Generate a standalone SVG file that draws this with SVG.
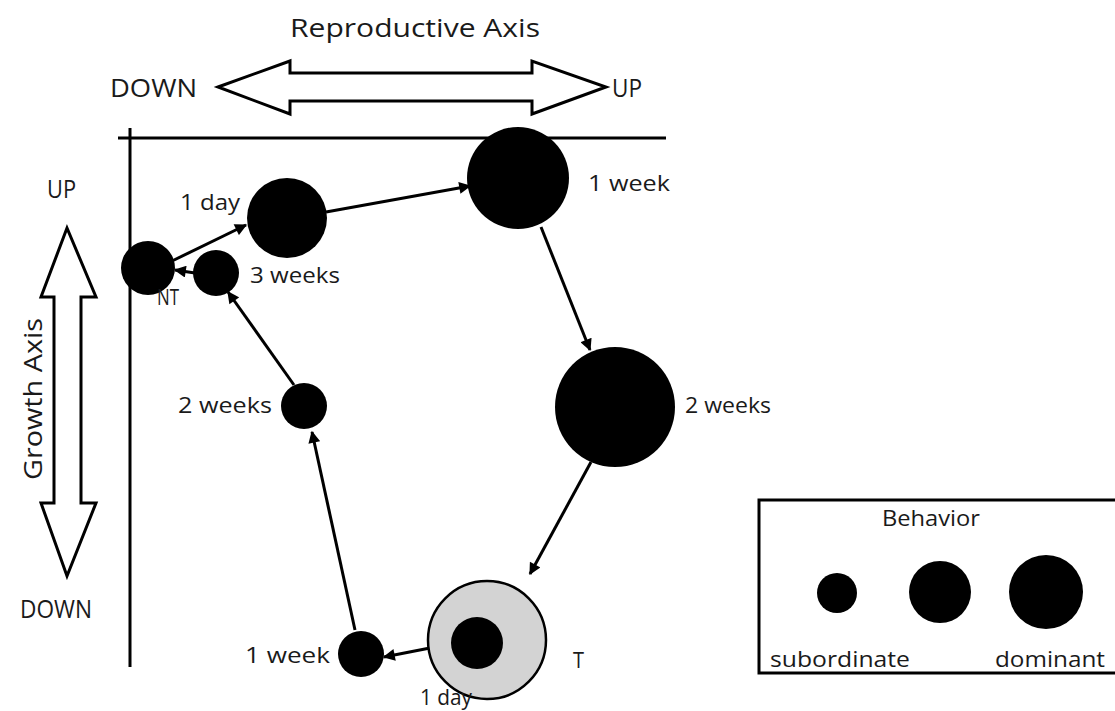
<svg xmlns="http://www.w3.org/2000/svg" width="1115" height="711" viewBox="0 0 1115 711">
<defs>
<style>
text{font-family:"Open Sans","Noto Sans",sans-serif;fill:#1a1a1a}
.big{font-size:25px}
.lbl{font-size:21px}
.node{fill:#000}
.conn line{stroke:#000;stroke-width:3;marker-end:url(#ah)}
.axis{fill:#fff;stroke:#000;stroke-width:3;stroke-linejoin:miter}
</style>
<marker id="ah" viewBox="0 0 10 10" refX="9" refY="5" markerWidth="4.5" markerHeight="4" orient="auto" markerUnits="strokeWidth">
<path d="M0,0 L10,5 L0,10 Z" fill="#000"/>
</marker>
</defs>
<rect width="1115" height="711" fill="#fff"/>

<g id="reproductive-axis">
<text class="big" x="290" y="37" textLength="250" lengthAdjust="spacingAndGlyphs">Reproductive Axis</text>
<text class="big" x="110" y="97" textLength="87" lengthAdjust="spacingAndGlyphs">DOWN</text>
<text class="big" x="612" y="97" textLength="30" lengthAdjust="spacingAndGlyphs">UP</text>
<path class="axis" d="M218,87 L290,61 L290,73 L532,73 L532,61 L606,87 L532,114 L532,101 L290,101 L290,114 Z"/>
</g>

<g id="growth-axis">
<text class="big" x="47" y="198" textLength="29" lengthAdjust="spacingAndGlyphs">UP</text>
<text class="big" x="20" y="618" textLength="72" lengthAdjust="spacingAndGlyphs">DOWN</text>
<text class="big" transform="translate(42,399) rotate(-90)" x="-81" y="0" textLength="162" lengthAdjust="spacingAndGlyphs">Growth Axis</text>
<path class="axis" d="M67,228 L41,297 L54,297 L54,503 L41,503 L67,576 L96,503 L81,503 L81,297 L96,297 Z"/>
</g>

<g id="frame">
<line x1="118" y1="138" x2="666" y2="138" stroke="#000" stroke-width="3"/>
<line x1="130" y1="128" x2="130" y2="667" stroke="#000" stroke-width="3"/>
</g>

<g class="conn" id="connectors">
<line x1="170" y1="262" x2="246" y2="225"/>
<line x1="326" y1="212" x2="470" y2="186"/>
<line x1="541" y1="227" x2="590" y2="350"/>
<line x1="591" y1="462" x2="530" y2="574"/>
<line x1="430" y1="648" x2="384" y2="657"/>
<line x1="355" y1="630" x2="312" y2="432"/>
<line x1="294" y1="385" x2="228" y2="292"/>
<line x1="195" y1="273" x2="175" y2="270"/>
<line x1="492" y1="628" x2="517" y2="611"/>
</g>

<g id="node-NT">
<circle class="node" cx="148" cy="268" r="27"/>
<text class="lbl" x="157" y="305" textLength="22" lengthAdjust="spacingAndGlyphs">NT</text>
</g>
<g id="node-3weeks">
<circle class="node" cx="216" cy="273" r="23"/>
<text class="lbl" x="250" y="283" textLength="90" lengthAdjust="spacingAndGlyphs">3 weeks</text>
</g>
<g id="node-1day">
<circle class="node" cx="287" cy="218" r="40"/>
<text class="lbl" x="180" y="210" textLength="60" lengthAdjust="spacingAndGlyphs">1 day</text>
</g>
<g id="node-1week-top">
<circle class="node" cx="518" cy="178" r="51"/>
<text class="lbl" x="588" y="191" textLength="82" lengthAdjust="spacingAndGlyphs">1 week</text>
</g>
<g id="node-2weeks-right">
<circle class="node" cx="615" cy="407" r="60"/>
<text class="lbl" x="685" y="413" textLength="86" lengthAdjust="spacingAndGlyphs">2 weeks</text>
</g>
<g id="node-T">
<circle cx="487" cy="640" r="59" fill="#d3d3d3" stroke="#000" stroke-width="2.5"/>
<circle class="node" cx="477" cy="643" r="26"/>
<text class="lbl" x="573" y="668" textLength="11" lengthAdjust="spacingAndGlyphs">T</text>
<text class="lbl" x="420" y="705" textLength="52" lengthAdjust="spacingAndGlyphs">1 day</text>
</g>
<g id="node-1week-bottom">
<circle class="node" cx="361" cy="654" r="23"/>
<text class="lbl" x="245" y="663" textLength="85" lengthAdjust="spacingAndGlyphs">1 week</text>
</g>
<g id="node-2weeks-left">
<circle class="node" cx="304" cy="406" r="23"/>
<text class="lbl" x="178" y="413" textLength="94" lengthAdjust="spacingAndGlyphs">2 weeks</text>
</g>

<g id="legend">
<rect x="759" y="500" width="370" height="173" fill="none" stroke="#000" stroke-width="3"/>
<text class="lbl" x="882" y="526" textLength="98" lengthAdjust="spacingAndGlyphs">Behavior</text>
<circle class="node" cx="837" cy="593" r="20"/>
<circle class="node" cx="940" cy="592" r="31"/>
<circle class="node" cx="1046" cy="592" r="37"/>
<text class="lbl" x="770" y="667" textLength="140" lengthAdjust="spacingAndGlyphs">subordinate</text>
<text class="lbl" x="995" y="667" textLength="110" lengthAdjust="spacingAndGlyphs">dominant</text>
</g>
</svg>
